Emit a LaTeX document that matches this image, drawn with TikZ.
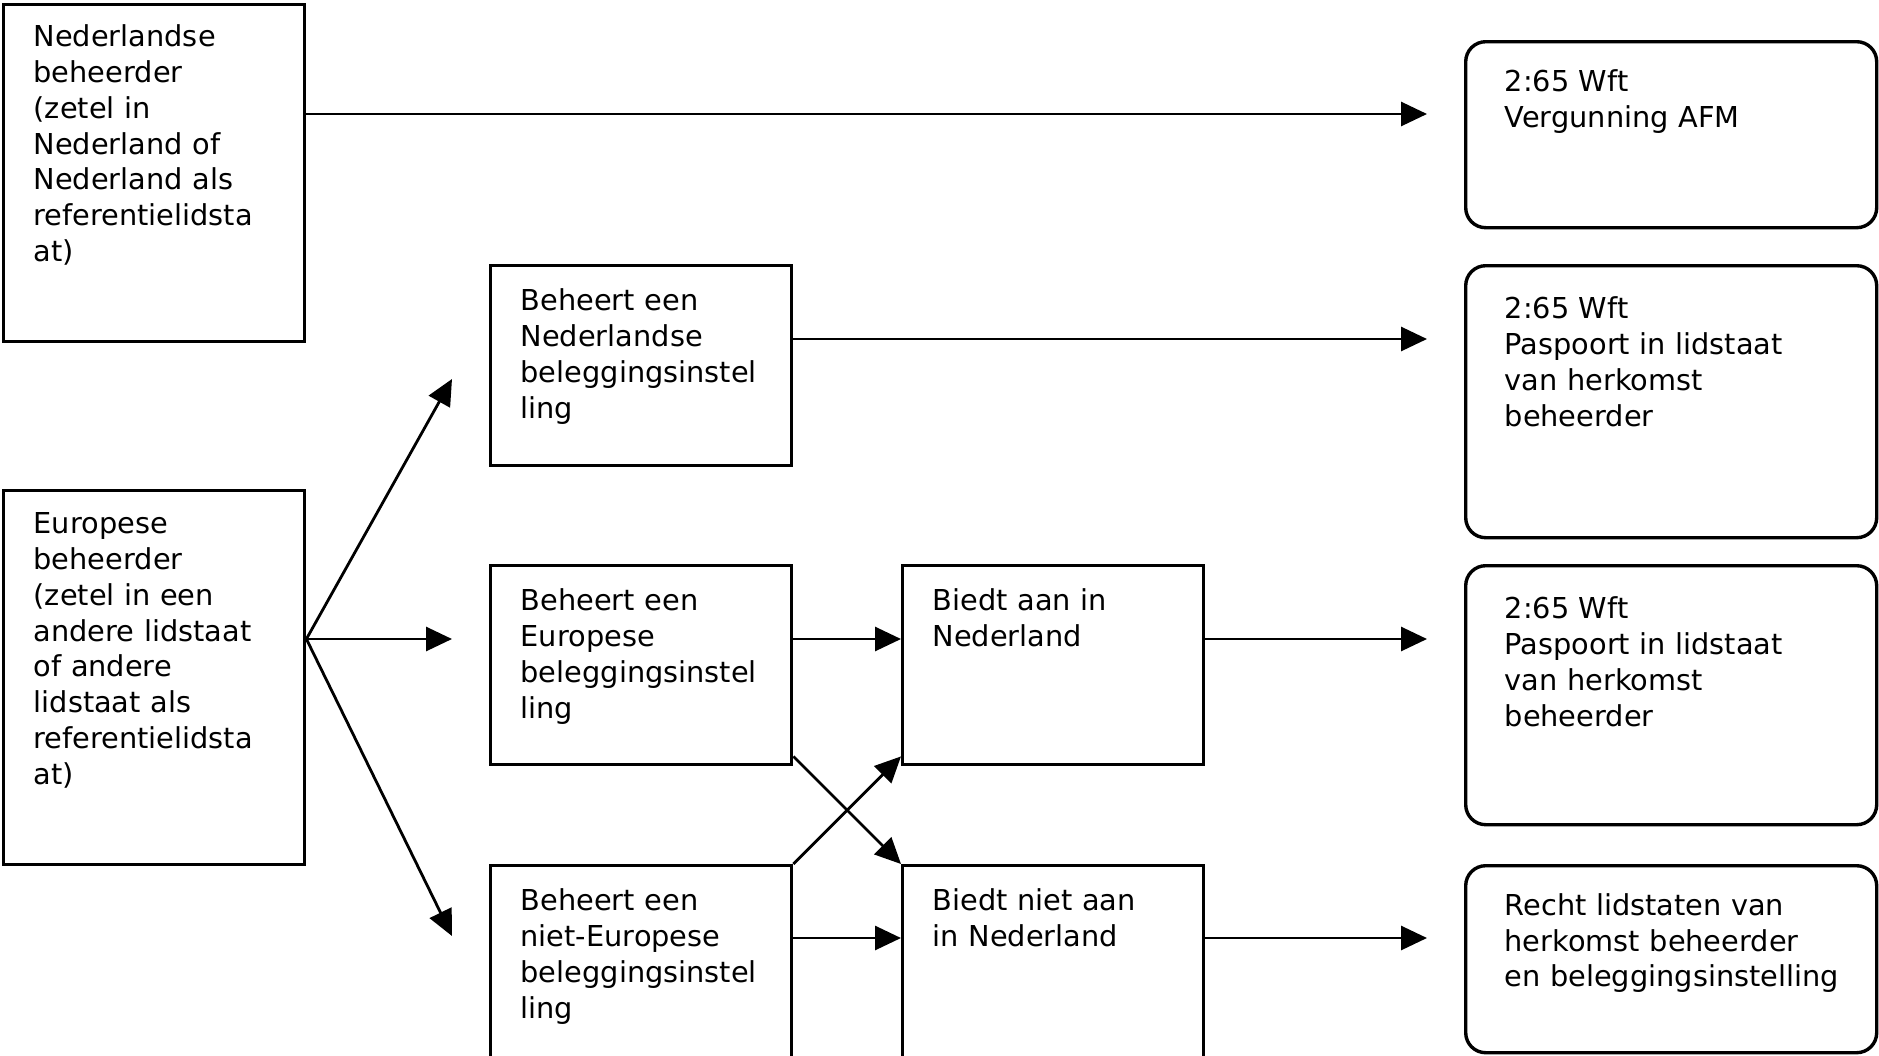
\documentclass[tikz,border=0pt]{standalone}
\usepackage{fontspec}
\setmainfont{DejaVu Sans}
\usetikzlibrary{arrows.meta}
\hyphenpenalty=10000
\exhyphenpenalty=10000

\tikzset{
  box/.style={draw, line width=1.7pt, anchor=north west, align=left,
    inner xsep=15pt, inner ysep=0pt, text width=120.5pt, text height=22.5pt},
  rbox/.style={box, rounded corners=10pt, inner xsep=19.5pt,
    text width=166.5pt, text height=26pt},
  arr/.style={-{Triangle[length=13pt,width=12pt]}, line width=1.4pt},
  gap/.style={arr, shorten >=18.5pt},
}

\begin{document}
\begin{tikzpicture}[x=0.5pt, y=0.5pt, font=\fontsize{14.4}{17.9}\selectfont]
   \useasboundingbox (0,0) rectangle (1879,-1055);
   \clip (0,0) rectangle (1879,-1055);
   % left column
   \node[box, text height=21pt, text depth=147.5pt] (nlbeh) at (2,-3) {Nederlandse\\beheerder\\(zetel in\\Nederland of\\Nederland als\\referentielidsta\\at)};
   \node[box, text height=21.5pt, text depth=165.5pt] (eubeh) at (2,-489) {Europese\\beheerder\\(zetel in een\\andere lidstaat\\of andere\\lidstaat als\\referentielidsta\\at)};
   % beleggingsinstellingen
   \node[box, text depth=77.5pt] (nlinst) at (489,-264) {Beheert een\\Nederlandse\\beleggingsinstel\\ling};
   \node[box, text depth=77pt] (euinst) at (489,-564) {Beheert een\\Europese\\beleggingsinstel\\ling};
   \node[box, text depth=77.5pt] (nieteuinst) at (489,-864) {Beheert een\\niet-Europese\\beleggingsinstel\\ling};
   % aanbieden
   \node[box, text depth=77pt] (aanbod) at (901,-564) {Biedt aan in\\Nederland};
   \node[box, text depth=77.5pt] (geenaanbod) at (901,-864) {Biedt niet aan\\in Nederland};
   % uitkomsten
   \node[rbox, text height=24.8pt, text depth=68.2pt] (vergunning) at (1464,-40) {2:65 Wft\\Vergunning~AFM};
   \node[rbox, text height=26.6pt, text depth=109.4pt] (paspoorta) at (1464,-264) {2:65 Wft\\Paspoort~in~lidstaat\\van herkomst\\beheerder};
   \node[rbox, text height=26.6pt, text depth=102.9pt] (paspoortb) at (1464,-564) {2:65 Wft\\Paspoort~in~lidstaat\\van herkomst\\beheerder};
   \node[rbox, text height=24.8pt, text depth=68.7pt] (rechtlid) at (1464,-864) {Recht~lidstaten~van\\herkomst~beheerder\\en~beleggingsinstelling};

   \coordinate (rowa) at (0,-114);
   \coordinate (rowb) at (0,-339);
   \coordinate (rowc) at (0,-639);
   \coordinate (rowd) at (0,-938);
   \coordinate (fanup) at (452,-379);
   \coordinate (fandown) at (452,-936);

   \draw[gap] (nlbeh.east |- rowa) -- (vergunning.west |- rowa);
   \draw[gap] (nlinst.east |- rowb) -- (paspoorta.west |- rowb);
   \draw[arr] (eubeh.east |- rowc) -- (fanup);
   \draw[gap] (eubeh.east |- rowc) -- (euinst.west |- rowc);
   \draw[arr] (eubeh.east |- rowc) -- (fandown);
   \draw[arr] (euinst.east |- rowc) -- (aanbod.west |- rowc);
   \draw[arr] (nieteuinst.north east) -- ([yshift=5pt]aanbod.south west);
   \draw[arr] ([yshift=5pt]euinst.south east) -- (geenaanbod.north west);
   \draw[arr] (nieteuinst.east |- rowd) -- (geenaanbod.west |- rowd);
   \draw[gap] (aanbod.east |- rowc) -- (paspoortb.west |- rowc);
   \draw[gap] (geenaanbod.east |- rowd) -- (rechtlid.west |- rowd);
\end{tikzpicture}
\end{document}
